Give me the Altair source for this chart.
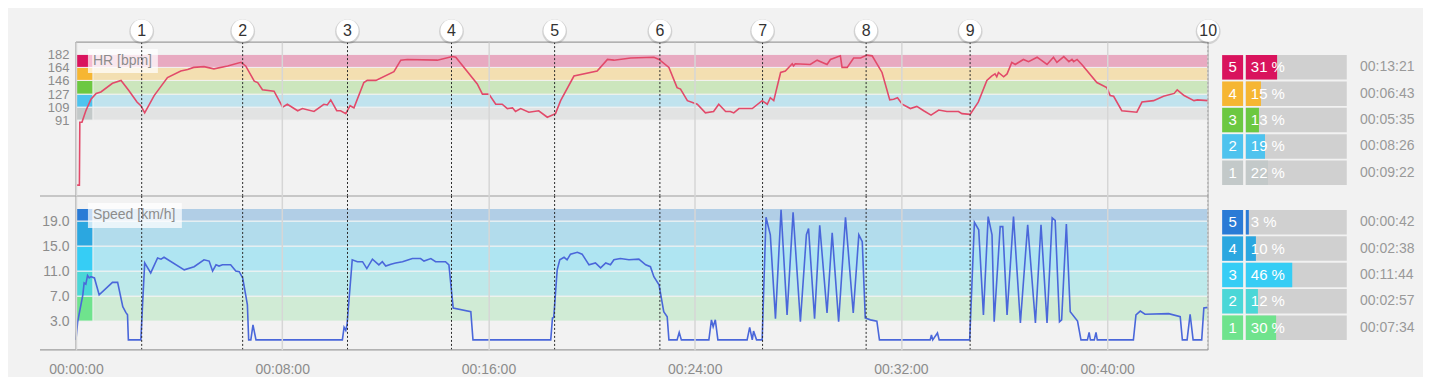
import altair as alt
import pandas as pd

# ---------------- data ----------------
HR_T = [0, 8, 9, 14, 23, 35, 47, 58, 85, 105,
        123, 142, 151, 160, 182, 213, 244, 260, 274, 298,
        321, 353, 384, 395, 415, 423, 434, 461, 481, 492,
        516, 527, 554, 577, 585, 593, 607, 616, 628, 638,
        647, 670, 678, 698, 740, 756, 771, 841, 876, 884,
        934, 946, 961, 977, 992, 1004, 1016, 1023, 1035, 1054,
        1077, 1097, 1116, 1128, 1159, 1213, 1237, 1252, 1291, 1345,
        1357, 1380, 1399, 1407, 1423, 1446, 1465, 1484, 1496, 1512,
        1523, 1531, 1543, 1574, 1597, 1609, 1616, 1624, 1640, 1651,
        1667, 1670, 1674, 1709, 1725, 1748, 1756, 1779, 1783, 1795,
        1810, 1826, 1841, 1853, 1876, 1894, 1903, 1912, 1923, 1942,
        1957, 1973, 1990, 2008, 2027, 2054, 2062, 2081, 2100, 2120,
        2131, 2139, 2143, 2147, 2159, 2167, 2178, 2186, 2205, 2217,
        2237, 2244, 2260, 2275, 2283, 2299, 2311, 2318, 2322, 2330,
        2341, 2376, 2399, 2407, 2415, 2434, 2469, 2481, 2508, 2531,
        2556, 2563, 2579, 2602, 2610, 2635]
HR_V = [1, 1, 88, 88, 104, 120, 128, 130, 142, 146,
        132, 116, 111, 101, 125, 150, 159, 161, 164, 165,
        162, 166, 171, 166, 145, 143, 133, 131, 109, 113,
        104, 107, 103, 113, 112, 119, 104, 104, 100, 111,
        108, 143, 146, 146, 158, 174, 175, 174, 179, 178,
        141, 127, 127, 113, 113, 107, 108, 103, 107, 102,
        104, 95, 100, 118, 152, 159, 175, 174, 177, 178,
        175, 164, 136, 134, 118, 113, 101, 103, 113, 103,
        103, 101, 107, 107, 118, 113, 122, 118, 157, 159,
        169, 166, 169, 168, 174, 168, 175, 180, 164, 164,
        177, 177, 181, 180, 157, 119, 120, 122, 113, 107,
        110, 104, 98, 105, 103, 103, 100, 99, 116, 146,
        152, 155, 151, 157, 151, 155, 171, 168, 175, 172,
        178, 175, 168, 178, 171, 179, 172, 175, 172, 175,
        168, 143, 136, 125, 124, 104, 102, 116, 118, 124,
        128, 133, 125, 118, 119, 118]

SP_T = [0, 4, 16, 19, 23, 27, 31, 35, 43, 54,
        85, 97, 109, 116, 120, 122, 151, 155, 160, 174,
        190, 198, 205, 252, 275, 298, 310, 318, 326, 333,
        341, 360, 372, 380, 388, 395, 399, 402, 407, 412,
        419, 620, 624, 628, 631, 643, 655, 667, 677, 690,
        705, 713, 721, 733, 744, 760, 783, 802, 810, 826,
        837, 860, 868, 878, 919, 924, 1105, 1109, 1112, 1120,
        1126, 1136, 1143, 1151, 1167, 1178, 1194, 1209, 1221, 1233,
        1244, 1252, 1267, 1287, 1310, 1326, 1337, 1345, 1357, 1368,
        1376, 1380, 1399, 1404, 1409, 1473, 1479, 1483, 1488, 1494,
        1562, 1568, 1574, 1577, 1584, 1597, 1606, 1616, 1628, 1641,
        1655, 1669, 1686, 1700, 1705, 1719, 1731, 1748, 1760, 1775,
        1791, 1809, 1822, 1830, 1837, 1849, 1864, 1870, 1988, 1991,
        1994, 2005, 2009, 2080, 2091, 2101, 2112, 2123, 2132, 2137,
        2151, 2157, 2167, 2182, 2198, 2215, 2233, 2246, 2260, 2272,
        2279, 2289, 2294, 2305, 2314, 2331, 2339, 2354, 2358, 2361,
        2370, 2374, 2377, 2461, 2467, 2477, 2488, 2543, 2570, 2575,
        2586, 2593, 2600, 2620, 2625, 2635]
SP_V = [0, 2.9, 7.2, 9.1, 8.9, 10.3, 9.9, 10.1, 9.9, 7.2,
        9.2, 9.2, 5.3, 4.4, 4.0, 0, 0, 5.6, 12.3, 10.7,
        13.1, 12.9, 13.2, 11.2, 11.7, 12.8, 12.6, 11.0, 12.0, 11.8,
        12.0, 12.0, 11.0, 10.9, 9.9, 7.2, 5.6, 0, 0, 2.4,
        0, 0, 2.0, 1.5, 2.5, 12.8, 12.5, 12.5, 11.4, 12.9,
        12.0, 12.5, 11.8, 12.1, 12.3, 12.5, 13.0, 13.0, 12.6, 13.0,
        12.5, 12.5, 12.0, 5.1, 4.5, 0, 0, 3.5, 3.6, 11.2,
        12.8, 13.2, 12.8, 13.7, 14.0, 13.7, 12.0, 12.3, 11.5, 12.3,
        12.0, 12.8, 13.0, 12.8, 12.9, 12.0, 11.7, 10.1, 8.8, 4.5,
        3.7, 0, 0, 1.2, 0, 0, 3.2, 2.1, 3.2, 0,
        0, 2.0, 0, 1.4, 0, 0, 19.6, 16.8, 3.4, 20.8,
        4.0, 20.4, 2.9, 16.8, 17.8, 3.4, 18.3, 4.3, 17.1, 2.9,
        19.6, 4.3, 16.8, 15.7, 3.5, 3.2, 3.0, 0, 0, 0.8,
        0, 1.1, 0, 0, 18.8, 17.6, 4.0, 19.7, 16.8, 2.9,
        18.1, 18.1, 4.0, 19.7, 2.7, 18.4, 2.7, 18.4, 2.7, 19.5,
        19.1, 2.9, 3.2, 18.5, 4.5, 3.0, 0, 0, 1.2, 0,
        0, 1.2, 0, 0, 4.0, 4.6, 4.1, 4.2, 3.7, 0,
        0, 4.1, 0, 0, 5.1, 5.2]

LAP_T = [153, 388, 632, 874, 1114, 1359, 1598, 1839, 2081, 2635]
LAP_N = ["1", "2", "3", "4", "5", "6", "7", "8", "9", "10"]

ZONES = ["1", "2", "3", "4", "5"]
HR_LO = [91, 109, 127, 146, 164]
HR_HI = [109, 127, 146, 164, 182]
HR_PCT = [22, 19, 13, 15, 31]
HR_TIME = ["00:09:22", "00:08:26", "00:05:35", "00:06:43", "00:13:21"]
SP_LO = [3, 7, 11, 15, 19]
SP_HI = [7, 11, 15, 19, 21]
SP_PCT = [30, 12, 46, 10, 3]
SP_TIME = ["00:07:34", "00:02:57", "00:11:44", "00:02:38", "00:00:42"]

X_TICKS = [0, 480, 960, 1440, 1920, 2400]
HR_TICKS = [91, 109, 127, 146, 164, 182]
SP_TICKS = [3, 7, 11, 15, 19]
T_MAX = 2635

# ---------------- styles ----------------
BG = "#f2f2f2"
TXT = "#8c8c8c"
FRAME = "#9c9c9c"
GRID = "#d6d6d6"
HR_STRONG = ["#c3c9c9", "#4ec3ee", "#6cc841", "#f6b632", "#d9135d"]
HR_LIGHT = ["#e2e3e3", "#c0e3ee", "#cce6bd", "#f3dfb1", "#e8aac1"]
SP_STRONG = ["#6fe38d", "#4bd7d7", "#36cdf5", "#2ba7e0", "#2a7bd6"]
SP_LIGHT = ["#d0ebd5", "#bde9ea", "#afe5f2", "#b2dcec", "#b1cee6"]
HR_LINE = "#e24a6a"
SP_LINE = "#4a67da"
W, H, LW = 1133, 154, 215

xscale = alt.Scale(domain=[0, T_MAX], nice=False, zero=False)
one = pd.DataFrame({"k": [0]})


def x_axis(labels):
    if labels:
        return alt.Axis(values=X_TICKS,
                        labelExpr="utcFormat(datum.value * 1000, '%H:%M:%S')",
                        labelColor=TXT, labelFontSize=14, labelPadding=13,
                        labelFlush=False, labelOverlap=False, ticks=False,
                        domain=False, grid=True, gridColor=GRID, gridWidth=1.5,
                        title=None, zindex=1)
    return alt.Axis(values=X_TICKS, labels=False, ticks=False, domain=False,
                    grid=True, gridColor=GRID, gridWidth=1.5, title=None, zindex=1)


def panel(t, v, lo, hi, light, strong, ydom, yticks, yfmt, ysize, title, box_w,
          box_y, line_color, labels, top):
    yscale = alt.Scale(domain=ydom, nice=False, zero=False)
    yaxis = alt.Axis(values=yticks, format=yfmt, labelColor=TXT, labelFontSize=ysize,
                     labelPadding=7, labelOverlap=False, labelFlush=False, ticks=False,
                     domain=False, grid=False, title=None)
    xaxis = x_axis(labels)
    zdf = pd.DataFrame({"zone": ZONES, "lo": lo, "hi": hi})
    ldf = pd.DataFrame({"t": t, "v": v})
    lapdf = pd.DataFrame({"t": LAP_T, "n": LAP_N})

    bands = alt.Chart(zdf).mark_rect(stroke=BG, strokeWidth=1).encode(
        x=alt.value(0), x2=alt.value(W),
        y=alt.Y("lo:Q", scale=yscale, axis=yaxis), y2="hi:Q",
        color=alt.Color("zone:N", scale=alt.Scale(domain=ZONES, range=light), legend=None))
    strips = alt.Chart(zdf).mark_rect(stroke=BG, strokeWidth=1).encode(
        x=alt.value(0), x2=alt.value(17),
        y=alt.Y("lo:Q", scale=yscale, axis=yaxis), y2="hi:Q",
        fill=alt.Fill("zone:N", scale=alt.Scale(domain=ZONES, range=strong), legend=None))
    line = alt.Chart(ldf).mark_line(color=line_color, strokeWidth=1.6).encode(
        x=alt.X("t:Q", scale=xscale, axis=xaxis),
        y=alt.Y("v:Q", scale=yscale, axis=yaxis))
    laps = alt.Chart(lapdf).mark_rule(color="#2a2a2a", strokeDash=[2, 2], strokeWidth=1).encode(
        x=alt.X("t:Q", scale=xscale, axis=xaxis), y=alt.value(0), y2=alt.value(H))
    left = alt.Chart(one).mark_rule(color=FRAME, strokeWidth=1.2).encode(
        x=alt.value(0), y=alt.value(0), y2=alt.value(H))
    right = alt.Chart(one).mark_rule(color="#c4c4c4", strokeWidth=1.5).encode(
        x=alt.value(W), y=alt.value(0), y2=alt.value(H))
    bottom = alt.Chart(one).mark_rule(color=FRAME, strokeWidth=1.2).encode(
        x=alt.value(-36), x2=alt.value(W), y=alt.value(H))
    box = alt.Chart(one).mark_rect(fill="white", opacity=0.72).encode(
        x=alt.value(12), x2=alt.value(12 + box_w), y=alt.value(box_y[0]), y2=alt.value(box_y[1]))
    label = alt.Chart(one).mark_text(text=title, align="left", baseline="middle",
                                     fontSize=14, color=TXT).encode(
        x=alt.value(17), y=alt.value((box_y[0] + box_y[1]) / 2))
    layers = [bands, strips, line, box, label, laps, left, right, bottom]
    if top:
        topline = alt.Chart(one).mark_rule(color=FRAME, strokeWidth=1.2).encode(
            x=alt.value(0), x2=alt.value(W), y=alt.value(0))
        shadow = alt.Chart(lapdf).mark_circle(size=620, color="#000000", opacity=0.13).encode(
            x=alt.X("t:Q", scale=xscale, axis=xaxis), y=alt.value(-10.5))
        circ = alt.Chart(lapdf).mark_circle(size=490, color="#ffffff", opacity=1).encode(
            x=alt.X("t:Q", scale=xscale, axis=xaxis), y=alt.value(-11.5))
        num = alt.Chart(lapdf).mark_text(fontSize=16, color="#333333", baseline="middle").encode(
            x=alt.X("t:Q", scale=xscale, axis=xaxis), y=alt.value(-11), text="n:N")
        layers += [topline, shadow, circ, num]
    return alt.layer(*layers).properties(width=W, height=H).resolve_scale(
        color="independent", fill="independent")


def legend(pcts, times, strong, rng):
    df = pd.DataFrame({"zone": ZONES, "pct": pcts, "time": times})
    df["label"] = df["pct"].astype(str) + " %"
    y = alt.Y("zone:N", scale=alt.Scale(domain=ZONES[::-1], range=rng,
                                        paddingInner=0.07, paddingOuter=0), axis=None)
    xs = alt.Scale(domain=[-37.3, 175.5], nice=False, zero=False)
    col = alt.Color("zone:N", scale=alt.Scale(domain=ZONES, range=strong), legend=None)
    base = alt.Chart(df)
    bg = base.mark_rect(color="#d0d0d0").encode(
        x=alt.XDatum(100, type="quantitative", scale=xs, axis=None),
        x2=alt.X2Datum(0), y=y)
    boxes = base.mark_rect().encode(x=alt.value(14), x2=alt.value(35), y=y, color=col)
    fill = base.mark_rect().encode(
        x=alt.X("pct:Q", scale=xs, axis=None), x2=alt.X2Datum(0), y=y, color=col)
    num = base.mark_text(color="white", fontSize=15, align="center", baseline="middle").encode(
        x=alt.value(24.5), y=y, text="zone:N")
    pct = base.mark_text(color="white", fontSize=15, align="left", baseline="middle", dx=5).encode(
        x=alt.XDatum(0, type="quantitative", scale=xs, axis=None), y=y, text="label:N")
    tm = base.mark_text(color="#999999", fontSize=14, align="left", baseline="middle").encode(
        x=alt.value(152), y=y, text="time:N")
    return alt.layer(bg, boxes, fill, num, pct, tm).properties(width=LW, height=H)


hr_panel = panel(HR_T, HR_V, HR_LO, HR_HI, HR_LIGHT, HR_STRONG, [-14, 199], HR_TICKS, "d", 13,
                 "HR [bpm]", 70, (7, 31), HR_LINE, False, True)
sp_panel = panel(SP_T, SP_V, SP_LO, SP_HI, SP_LIGHT, SP_STRONG, [-1.6, 23.0], SP_TICKS, ".1f", 14,
                 "Speed [km/h]", 94, (7, 32), SP_LINE, True, False)
hr_leg = legend(HR_PCT, HR_TIME, HR_STRONG, [13, 143])
sp_leg = legend(SP_PCT, SP_TIME, SP_STRONG, [14, 144])

chart = alt.concat(hr_panel, hr_leg, sp_panel, sp_leg, columns=2, spacing=0,
                   bounds="flush").resolve_scale(
    color="independent", fill="independent"
).properties(
    padding={"left": 31, "top": 11, "right": 0, "bottom": 0},
    background=BG,
).configure(font="Liberation Sans").configure_view(stroke=None)

chart.save("out.html", embed_options={"renderer": "svg", "actions": False})
